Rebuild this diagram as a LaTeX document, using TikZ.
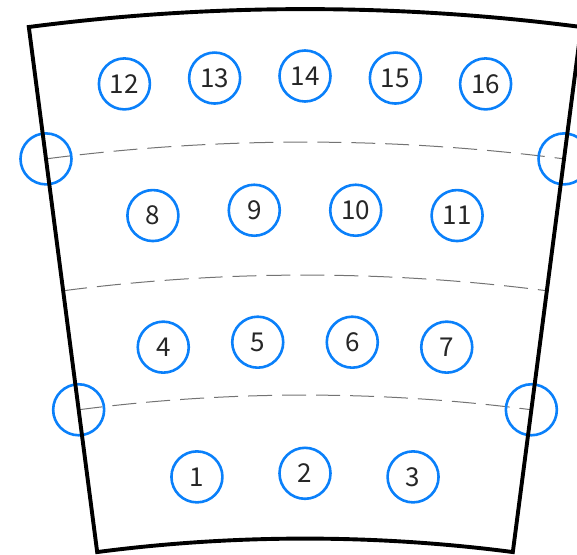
\documentclass[tikz,border=0pt]{standalone}
\usepackage{fontspec}
\newfontfamily\numfont{Noto Sans CJK SC}
\definecolor{holeblue}{RGB}{10,128,250}
\definecolor{guidegray}{RGB}{115,115,115}
\begin{document}
\begin{tikzpicture}[x=1pt,y=1pt,
  hole/.style={circle,draw=holeblue,line width=2.6pt,minimum size=51pt,inner sep=0pt,
    font=\numfont\fontsize{26}{26}\selectfont,text=black!85},
  rim/.style={draw=black,line width=3.9pt,line join=miter},
  guide/.style={draw=guidegray,line width=1pt,dash pattern=on 24pt off 10pt}]
\useasboundingbox (0,0) rectangle (577,554);
\coordinate (C) at (305,-1594);
% dashed guide arcs
\foreach \r in {2006,1873,1753}{
  \draw[guide] ([shift={(C)}]97.42:\r pt) arc[start angle=97.42,end angle=82.58,radius=\r pt];
}
% edge circles
\node[hole] (eTL) at ([shift={(C)}]97.42:2006pt) {};
\node[hole] (eTR) at ([shift={(C)}]82.58:2006pt) {};
\node[hole] (eBL) at ([shift={(C)}]97.42:1753pt) {};
\node[hole] (eBR) at ([shift={(C)}]82.58:1753pt) {};
% numbered holes
\foreach \a/\t in {5/12,2.5/13,0/14,-2.5/15,-5/16}{
  \node[hole] (n\t) at ([shift={(C)}]90+\a:2072pt) {\t};
}
\foreach \a/\t in {4.5/8,1.5/9,-1.5/10,-4.5/11}{
  \node[hole] (n\t) at ([shift={(C)}]90+\a:1938.5pt) {\t};
}
\foreach \a/\t in {4.5/4,1.5/5,-1.5/6,-4.5/7}{
  \node[hole] (n\t) at ([shift={(C)}]90+\a:1806.5pt) {\t};
}
\foreach \a/\t in {3.7/1,0/2,-3.7/3}{
  \node[hole] (n\t) at ([shift={(C)}]90+\a:1674.7pt) {\t};
}
% outline
\draw[rim] ([shift={(C)}]97.42:2139pt) arc[start angle=97.42,end angle=82.58,radius=2139pt]
  -- ([shift={(C)}]82.58:1609.5pt) arc[start angle=82.58,end angle=97.42,radius=1609.5pt] -- cycle;
\end{tikzpicture}
\end{document}
